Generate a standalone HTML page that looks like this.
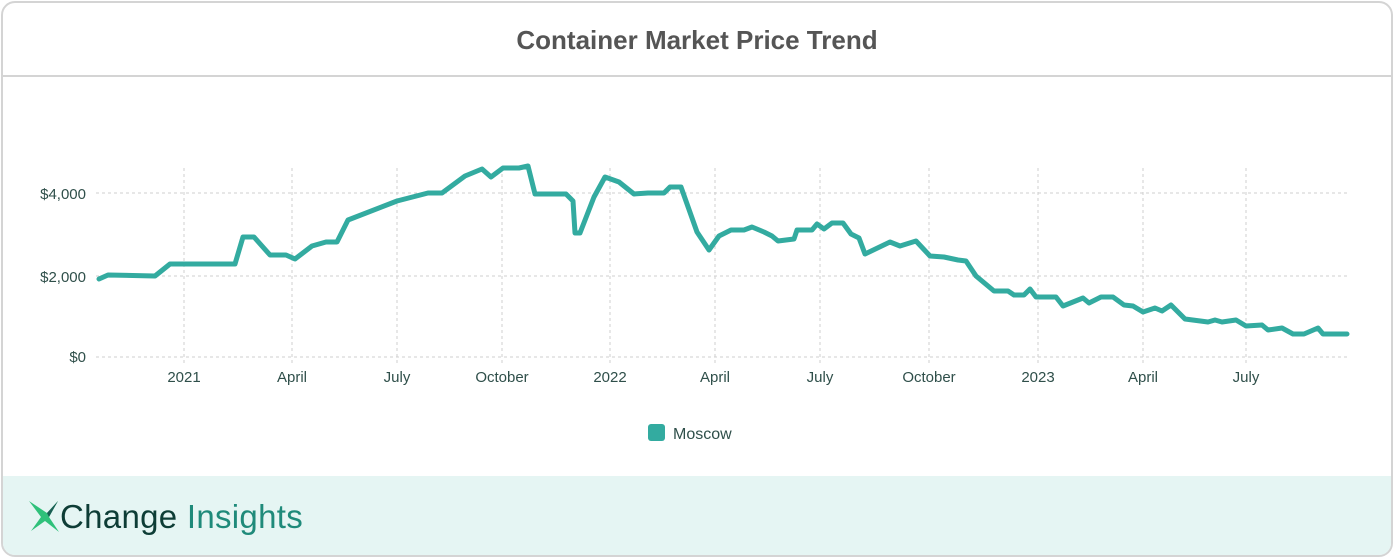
<!DOCTYPE html>
<html><head><meta charset="utf-8"><style>
body{margin:0;width:1394px;height:558px;background:#fff;font-family:"Liberation Sans",sans-serif;overflow:hidden}
.card{position:absolute;left:1px;top:1px;width:1388px;height:552px;border:2px solid #d4d4d4;border-radius:14px;overflow:hidden;background:#fff}
.title{position:absolute;left:0;top:0;width:100%;height:72px;border-bottom:2px solid #d4d4d4;text-align:center;line-height:74px;font-size:26px;font-weight:bold;color:#555}
.foot{position:absolute;left:0;top:473px;width:100%;height:90px;background:#e5f5f3}
.logo{position:absolute;left:60px;top:498px;font-size:33px;color:#0e3d36;letter-spacing:0.3px}
.logo span{color:#1f8a7a}
</style></head><body>
<div class="card">
<div class="title">Container Market Price Trend</div>
<div class="foot"></div>
</div>
<svg width="1394" height="558" style="position:absolute;left:0;top:0" font-family="Liberation Sans, sans-serif">
<g stroke="#cfcfcf" stroke-width="1" stroke-dasharray="3,3">
<line x1="96" x2="1350" y1="193" y2="193"/><line x1="96" x2="1350" y1="276" y2="276"/><line x1="96" x2="1350" y1="357" y2="357"/>
<line x1="184" x2="184" y1="168" y2="365"/><line x1="292" x2="292" y1="168" y2="365"/><line x1="397" x2="397" y1="168" y2="365"/><line x1="502" x2="502" y1="168" y2="365"/><line x1="610" x2="610" y1="168" y2="365"/><line x1="715" x2="715" y1="168" y2="365"/><line x1="820" x2="820" y1="168" y2="365"/><line x1="929" x2="929" y1="168" y2="365"/><line x1="1038" x2="1038" y1="168" y2="365"/><line x1="1143" x2="1143" y1="168" y2="365"/><line x1="1246" x2="1246" y1="168" y2="365"/>
</g>
<g fill="#2f4f4a" font-size="15" text-anchor="end">
<text x="86" y="199">$4,000</text><text x="86" y="282">$2,000</text><text x="86" y="362">$0</text>
</g>
<g fill="#2f4f4a" font-size="15" text-anchor="middle">
<text x="184" y="382">2021</text><text x="292" y="382">April</text><text x="397" y="382">July</text><text x="502" y="382">October</text><text x="610" y="382">2022</text><text x="715" y="382">April</text><text x="820" y="382">July</text><text x="929" y="382">October</text><text x="1038" y="382">2023</text><text x="1143" y="382">April</text><text x="1246" y="382">July</text>
</g>
<polyline fill="none" stroke="#33aba0" stroke-width="5" stroke-linejoin="round" stroke-linecap="round" points="99,279 108,275 155,276 170,264 235,264 243,237 254,237 270,255 286,255 295,259 312,246 326,242 337,242 348,220 397,201 428,193 442,193 465,176 482,169 491,177 503,168 519,168 528,166 535,194 566,194 573,201 575,233 580,233 594,197 605,177 619,182 634,194 648,193 664,193 670,187 681,187 697,232 709,250 719,236 731,230 744,230 752,227 764,232 772,236 778,241 794,239 797,230 812,230 817,224 824,229 832,223 843,223 851,234 859,238 865,254 890,242 900,246 916,241 930,256 944,257 958,260 966,261 976,276 994,291 1008,291 1014,295 1024,295 1030,289 1036,297 1056,297 1063,306 1083,298 1089,303 1101,297 1113,297 1124,305 1133,306 1143,312 1155,308 1162,311 1171,305 1185,319 1208,322 1215,320 1222,322 1236,320 1246,326 1262,325 1268,330 1282,328 1293,334 1304,334 1318,328 1323,334 1347,334"/>
<rect x="648" y="424" width="17" height="17" rx="3" fill="#33aba0"/>
<text x="673" y="439" font-size="16" fill="#2f4f4a">Moscow</text>
<polygon points="29,501 47,513 58,501 49,517 59,532 45,521 31,531 41,517" fill="#2fc17a"/>
<polygon points="47,513 58,501 49,517" fill="#1b5e54"/>
</svg>
<div class="logo">Change <span>Insights</span></div>
</body></html>
